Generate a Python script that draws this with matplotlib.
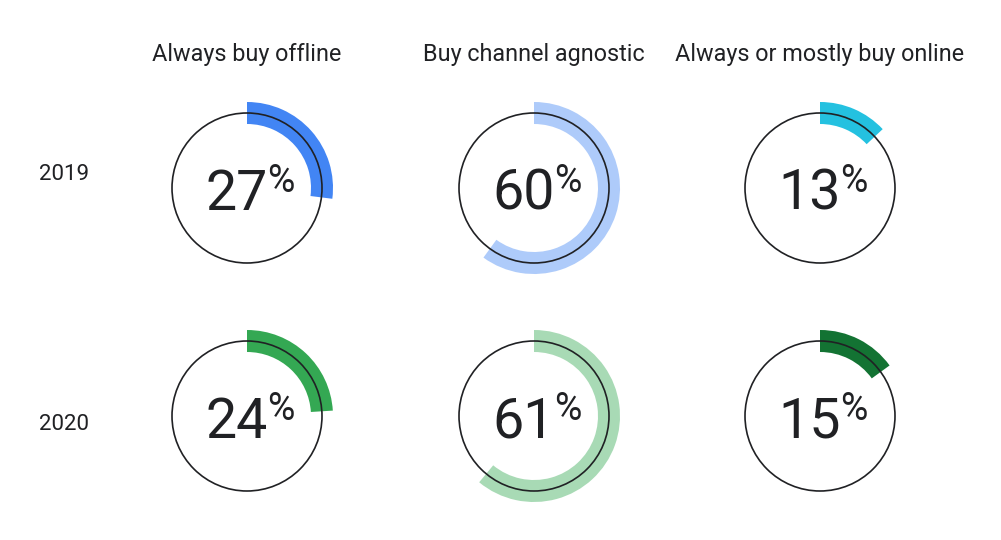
import numpy as np
import matplotlib.pyplot as plt
from matplotlib.patches import Wedge, Circle

plt.rcParams['font.family'] = ['Roboto', 'DejaVu Sans']

columns = ['Always buy offline', 'Buy channel agnostic', 'Always or mostly buy online']
years = ['2019', '2020']
values_2019 = [27, 60, 13]
values_2020 = [24, 61, 15]
colors_2019 = ['#4285F4', '#AECBFA', '#24C1E0']
colors_2020 = ['#34A853', '#A8DAB5', '#137333']

text_col = '#202124'
col_x = [247, 534, 820]
row_y = [188, 416]
r_circle = 75
r_outer = 86
band = 22

fig = plt.figure(figsize=(10.01, 5.40), dpi=100)
ax = fig.add_axes([0, 0, 1, 1])
ax.set_xlim(0, 1001)
ax.set_ylim(540, 0)
ax.axis('off')
renderer = fig.canvas.get_renderer()

for cx, name in zip(col_x, columns):
    ax.text(cx, 54, name, ha='center', va='center', fontsize=16.8, color=text_col)

for cy, yr in zip(row_y, years):
    ax.text(39, cy - 13 if yr == '2019' else cy + 8, yr, ha='left', va='center',
            fontsize=16, color=text_col)

rows = [(values_2019, colors_2019), (values_2020, colors_2020)]
for cy, (vals, cols) in zip(row_y, rows):
    for cx, v, c in zip(col_x, vals, cols):
        # y axis is flipped, so growing angle goes clockwise on screen
        ax.add_patch(Wedge((cx, cy), r_outer, -90, -90 + v * 3.6, width=band,
                           facecolor=c, edgecolor='none', zorder=1))
        ax.add_patch(Circle((cx, cy), r_circle, fill=False, edgecolor=text_col,
                            lw=1.2, zorder=2))
        t1 = ax.text(0, cy + 22, str(v), ha='left', va='baseline', fontsize=40,
                     color=text_col, zorder=3)
        t2 = ax.text(0, cy + 4, '%', ha='left', va='baseline', fontsize=27,
                     color=text_col, zorder=3)
        w1 = t1.get_window_extent(renderer).width
        w2 = t2.get_window_extent(renderer).width
        start = cx + 3 - (w1 - 1 + w2) / 2
        t1.set_x(start)
        t2.set_x(start + w1 - 1)

fig.savefig('out.png', dpi=100)
